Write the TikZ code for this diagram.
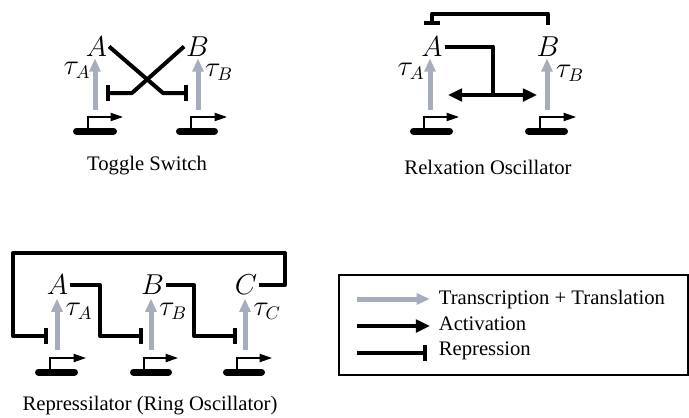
\documentclass[tikz,border=0pt]{standalone}
\usepackage{fontspec}
\setmainfont{Liberation Serif}
\usetikzlibrary{arrows.meta, positioning, calc}
\definecolor{txgray}{RGB}{166,173,190}

\begin{document}
\begin{tikzpicture}[
  x=0.6pt, y=-0.6pt,
  every node/.style={font=\rmfamily\fontsize{12.4}{14}\selectfont},
  lbl/.style={inner sep=1pt, font=\fontsize{16}{18}\selectfont},
  rate/.style={inner sep=0pt, font=\fontsize{16}{18}\selectfont},
  acttip/.tip={Triangle[length=8.5pt,width=7.5pt]},
  tx/.style={-{Triangle[length=8pt,width=6.5pt]}, line width=3pt, txgray},
  act/.style={-acttip, line width=2.4pt, line join=round},
  biact/.style={acttip-acttip, line width=2.4pt},
  link/.style={line width=2.4pt, line join=round},
  rep/.style={-{Bar[width=10pt]}, line width=2.4pt, line join=round},
  dna/.style={line width=4.2pt, line cap=round},
  prom/.style={-{Triangle[length=7.5pt,width=5pt]}, line width=0.8pt}
]
  \useasboundingbox (0,0) rectangle (689,417);

  % toggle switch
  \node[lbl] (tsA) at (96.5,46.5) {$A$};
  \node[lbl] (tsB) at (197.5,46.5) {$B$};
  \node[rate] (tsTA) at (77,70) {$\tau_A$};
  \node[rate] (tsTB) at (219,72) {$\tau_B$};
  \coordinate (tsgA) at (95,110);
  \coordinate (tsgB) at (198,110);
  \coordinate (tsrA) at (106,93);
  \coordinate (tsrB) at (188,93);
  \draw[dna] (76.5,131) -- (113.5,131);
  \draw[prom] (88,131) |- (123,117);
  \draw[dna] (179.5,131) -- (214.5,131);
  \draw[prom] (191,131) |- (227,117);
  \draw[tx] (tsgA) -- (tsgA |- tsA.south);
  \draw[tx] (tsgB) -- (tsgB |- tsB.south);
  \draw[rep] (tsA.east) -- (163,93) -- (tsrB);
  \draw[rep] (tsB.west) -- (132,93) -- (tsrA);
  \node (tsCap) at (147,166) {Toggle Switch};

  % relaxation oscillator
  \node[lbl] (roA) at (432,46.5) {$A$};
  \node[lbl] (roB) at (548,46.5) {$B$};
  \node[rate] (roTA) at (411,71) {$\tau_A$};
  \node[rate] (roTB) at (570,73) {$\tau_B$};
  \coordinate (rogA) at (430,110);
  \coordinate (rogB) at (547,110);
  \coordinate (roM) at (493,95);
  \coordinate (roL) at (448,95);
  \coordinate (roR) at (537,95);
  \draw[dna] (413.5,131) -- (449.5,131);
  \draw[prom] (424,131) |- (459,117);
  \draw[dna] (528.5,131) -- (564.5,131);
  \draw[prom] (540,131) |- (576,117);
  \draw[tx] (rogA) -- (rogA |- roA.south);
  \draw[tx] (rogB) -- (rogB |- roB.south);
  \draw[rep] ([yshift=6pt]roB.north) -- ++(0,-11) -| ([yshift=6pt]roA.north);
  \draw[link] (roA.east) -| (roM);
  \draw[biact] (roL) -- (roR);
  \node (roCap) at (488,167) {Relxation Oscillator};

  % repressilator
  \node[lbl] (rpA) at (57.5,285) {$A$};
  \node[lbl] (rpB) at (152.5,285) {$B$};
  \node[lbl] (rpC) at (246,285) {$C$};
  \node[rate] (rpTA) at (79,311) {$\tau_A$};
  \node[rate] (rpTB) at (173,311) {$\tau_B$};
  \node[rate] (rpTC) at (267,311) {$\tau_C$};
  \coordinate (rpgA) at (57,350);
  \coordinate (rpgB) at (151,350);
  \coordinate (rpgC) at (245,350);
  \coordinate (rpsA) at (48,336);
  \coordinate (rpsB) at (143,336);
  \coordinate (rpsC) at (237,336);
  \draw[dna] (38.5,372) -- (74.5,372);
  \draw[prom] (50,372) |- (86,358);
  \draw[dna] (133.5,372) -- (168.5,372);
  \draw[prom] (144,372) |- (178,358);
  \draw[dna] (226.5,372) -- (261.5,372);
  \draw[prom] (237,372) |- (272,358);
  \draw[tx, shorten >=1pt] (rpgA) -- (rpgA |- rpA.south);
  \draw[tx, shorten >=1pt] (rpgB) -- (rpgB |- rpB.south);
  \draw[tx, shorten >=1pt] (rpgC) -- (rpgC |- rpC.south);
  \draw[rep] (rpA.east) -| (100,336) -- (rpsB);
  \draw[rep] (rpB.east) -| (194,336) -- (rpsC);
  \draw[rep] (rpC.east) -| (285,253) -| (13,336) -- (rpsA);
  \node (rpCap) at (150,406) {Repressilator (Ring Oscillator)};

  % legend
  \draw[line width=0.8pt] (339,275) rectangle (688,375);
  \coordinate (lgs1) at (357,299);
  \coordinate (lge1) at (430,299);
  \coordinate (lgs2) at (357,326);
  \coordinate (lge2) at (430,326);
  \coordinate (lgs3) at (357,353);
  \coordinate (lge3) at (427,353);
  \draw[tx] (lgs1) -- (lge1);
  \draw[act] (lgs2) -- (lge2);
  \draw[rep] (lgs3) -- (lge3);
  \node[anchor=west] (lgT) at (433,300) {Transcription + Translation};
  \node[anchor=west] (lgA) at (433,323.5) {Activation};
  \node[anchor=west] (lgR) at (433,351) {Repression};
\end{tikzpicture}
\end{document}
